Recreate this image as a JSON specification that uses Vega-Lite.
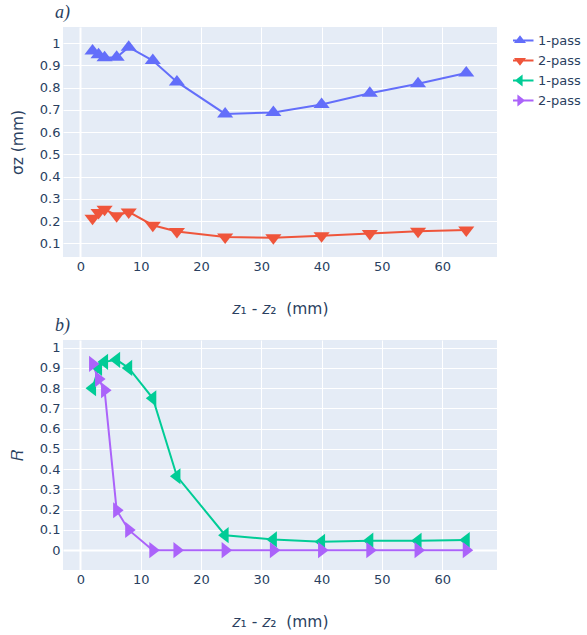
{
  "$schema": "https://vega.github.io/schema/vega-lite/v6.json",
  "padding": {"left": 10, "top": 4, "right": 0, "bottom": 0},
  "background": "white",
  "datasets": {
    "top": [
      {"dz": 2, "v": 0.965, "s": "a1"}, {"dz": 3, "v": 0.948, "s": "a1"}, {"dz": 4, "v": 0.935, "s": "a1"},
      {"dz": 6, "v": 0.937, "s": "a1"}, {"dz": 8, "v": 0.982, "s": "a1"}, {"dz": 12, "v": 0.922, "s": "a1"},
      {"dz": 16, "v": 0.826, "s": "a1"}, {"dz": 24, "v": 0.682, "s": "a1"}, {"dz": 32, "v": 0.688, "s": "a1"},
      {"dz": 40, "v": 0.724, "s": "a1"}, {"dz": 48, "v": 0.775, "s": "a1"}, {"dz": 56, "v": 0.818, "s": "a1"},
      {"dz": 64, "v": 0.866, "s": "a1"},
      {"dz": 2, "v": 0.212, "s": "a2"}, {"dz": 3, "v": 0.238, "s": "a2"}, {"dz": 4, "v": 0.253, "s": "a2"},
      {"dz": 6, "v": 0.224, "s": "a2"}, {"dz": 8, "v": 0.241, "s": "a2"}, {"dz": 12, "v": 0.181, "s": "a2"},
      {"dz": 16, "v": 0.153, "s": "a2"}, {"dz": 24, "v": 0.128, "s": "a2"}, {"dz": 32, "v": 0.125, "s": "a2"},
      {"dz": 40, "v": 0.134, "s": "a2"}, {"dz": 48, "v": 0.144, "s": "a2"}, {"dz": 56, "v": 0.154, "s": "a2"},
      {"dz": 64, "v": 0.16, "s": "a2"}
    ],
    "bottom": [
      {"dz": 2, "v": 0.80, "s": "b1"}, {"dz": 3, "v": 0.90, "s": "b1"}, {"dz": 4, "v": 0.93, "s": "b1"},
      {"dz": 6, "v": 0.94, "s": "b1"}, {"dz": 8, "v": 0.90, "s": "b1"}, {"dz": 12, "v": 0.75, "s": "b1"},
      {"dz": 16, "v": 0.365, "s": "b1"}, {"dz": 24, "v": 0.074, "s": "b1"}, {"dz": 32, "v": 0.053, "s": "b1"},
      {"dz": 40, "v": 0.041, "s": "b1"}, {"dz": 48, "v": 0.047, "s": "b1"}, {"dz": 56, "v": 0.046, "s": "b1"},
      {"dz": 64, "v": 0.05, "s": "b1"},
      {"dz": 2, "v": 0.92, "s": "b2"}, {"dz": 3, "v": 0.845, "s": "b2"}, {"dz": 4, "v": 0.79, "s": "b2"},
      {"dz": 6, "v": 0.197, "s": "b2"}, {"dz": 8, "v": 0.10, "s": "b2"}, {"dz": 12, "v": 0, "s": "b2"},
      {"dz": 16, "v": 0, "s": "b2"}, {"dz": 24, "v": 0, "s": "b2"}, {"dz": 32, "v": 0, "s": "b2"},
      {"dz": 40, "v": 0, "s": "b2"}, {"dz": 48, "v": 0, "s": "b2"}, {"dz": 56, "v": 0, "s": "b2"},
      {"dz": 64, "v": 0, "s": "b2"}
    ]
  },
  "config": {
    "view": {"fill": "#E5ECF6", "stroke": null},
    "axis": {
      "domain": false, "ticks": false, "gridColor": "white",
      "labelFont": "DejaVu Sans", "labelFontSize": 13, "labelColor": "#2a3f5f", "labelFlush": false,
      "titleFont": "DejaVu Sans", "titleFontSize": 15.5, "titleFontWeight": "normal", "titleColor": "#2a3f5f"
    },
    "axisX": {"labelPadding": 3, "titlePadding": 28},
    "axisY": {"labelPadding": 3, "titlePadding": 14},
    "title": {"anchor": "start", "frame": "group", "font": "Liberation Serif", "fontStyle": "italic", "fontWeight": "normal", "fontSize": 18, "color": "#2a3f5f", "offset": 5, "dx": -8},
    "legend": {
      "orient": "none", "legendX": 450, "legendY": 6.5, "padding": 0, "title": null,
      "labelFont": "DejaVu Sans", "labelFontSize": 13, "labelColor": "#2a3f5f",
      "symbolSize": 196, "symbolOpacity": 1, "symbolStrokeWidth": 0,
      "labelOffset": 11, "rowPadding": 6, "clipHeight": 14
    }
  },
  "spacing": 0,
  "resolve": {"scale": {"color": "shared", "shape": "shared"}},
  "vconcat": [
    {
      "width": 434, "height": 230,
      "title": {"text": "a)"},
      "data": {"name": "top"},
      "encoding": {
        "x": {"field": "dz", "type": "quantitative", "scale": {"domain": [-2.9, 69.1], "nice": false, "zero": false},
          "axis": {"values": [0, 10, 20, 30, 40, 50, 60], "title": "𝑧₁ - 𝑧₂\u00a0 (mm)",
            "gridWidth": {"condition": {"test": "datum.value === 0", "value": 2}, "value": 1}}},
        "y": {"field": "v", "type": "quantitative", "scale": {"domain": [0.038, 1.073], "nice": false, "zero": false},
          "axis": {"values": [0.1, 0.2, 0.3, 0.4, 0.5, 0.6, 0.7, 0.8, 0.9, 1], "format": ".1~f", "title": "σz (mm)"}},
        "color": {"field": "s", "type": "nominal",
          "scale": {"domain": ["a1", "a2", "b1", "b2"], "range": ["#636efa", "#EF553B", "#00cc96", "#ab63fa"]},
          "legend": {"labelExpr": "(datum.value === 'a1' || datum.value === 'b1') ? '1-pass' : '2-pass'"}}
      },
      "layer": [
        {"mark": {"type": "line", "strokeWidth": 2}},
        {"transform": [{"filter": "datum.s === 'a1'"}],
          "mark": {"type": "point", "filled": true, "opacity": 1, "size": 196, "shape": "M-1.155,0.5H1.155L0,-1Z"}},
        {"transform": [{"filter": "datum.s === 'a2'"}],
          "mark": {"type": "point", "filled": true, "opacity": 1, "size": 196, "shape": "M-1.155,-0.5H1.155L0,1Z"}},
        {"mark": {"type": "point", "filled": true, "opacity": 0, "size": 196},
          "encoding": {"shape": {"field": "s", "type": "nominal",
            "scale": {"domain": ["a1", "a2", "b1", "b2"], "range": [
              "M-1.93,-0.14V0.14H1.93V-0.14ZM-0.86,0.37H0.86L0,-0.74Z",
              "M-1.93,-0.14V0.14H1.93V-0.14ZM0.86,-0.37H-0.86L0,0.74Z",
              "M-1.93,-0.14V0.14H1.93V-0.14ZM0.37,0.86V-0.86L-0.74,0Z",
              "M-1.93,-0.14V0.14H1.93V-0.14ZM-0.37,-0.86V0.86L0.74,0Z"]},
            "legend": {"labelExpr": "(datum.value === 'a1' || datum.value === 'b1') ? '1-pass' : '2-pass'"}}}}
      ]
    },
    {
      "width": 434, "height": 230,
      "title": {"text": "b)"},
      "data": {"name": "bottom"},
      "encoding": {
        "x": {"field": "dz", "type": "quantitative", "scale": {"domain": [-2.9, 69.1], "nice": false, "zero": false},
          "axis": {"values": [0, 10, 20, 30, 40, 50, 60], "title": "𝑧₁ - 𝑧₂\u00a0 (mm)",
            "gridWidth": {"condition": {"test": "datum.value === 0", "value": 2}, "value": 1}}},
        "y": {"field": "v", "type": "quantitative", "scale": {"domain": [-0.098, 1.038], "nice": false, "zero": false},
          "axis": {"values": [0, 0.1, 0.2, 0.3, 0.4, 0.5, 0.6, 0.7, 0.8, 0.9, 1], "format": ".1~f", "title": "𝑅",
            "gridWidth": {"condition": {"test": "datum.value === 0", "value": 2}, "value": 1}}},
        "color": {"field": "s", "type": "nominal",
          "scale": {"domain": ["a1", "a2", "b1", "b2"], "range": ["#636efa", "#EF553B", "#00cc96", "#ab63fa"]},
          "legend": {"labelExpr": "(datum.value === 'a1' || datum.value === 'b1') ? '1-pass' : '2-pass'"}}
      },
      "layer": [
        {"mark": {"type": "line", "strokeWidth": 2}},
        {"transform": [{"filter": "datum.s === 'b1'"}],
          "mark": {"type": "point", "filled": true, "opacity": 1, "size": 196, "shape": "M0.5,-1.155V1.155L-1,0Z"}},
        {"transform": [{"filter": "datum.s === 'b2'"}],
          "mark": {"type": "point", "filled": true, "opacity": 1, "size": 196, "shape": "M-0.5,-1.155V1.155L1,0Z"}},
        {"mark": {"type": "point", "filled": true, "opacity": 0, "size": 196},
          "encoding": {"shape": {"field": "s", "type": "nominal",
            "scale": {"domain": ["a1", "a2", "b1", "b2"], "range": [
              "M-1.93,-0.14V0.14H1.93V-0.14ZM-0.86,0.37H0.86L0,-0.74Z",
              "M-1.93,-0.14V0.14H1.93V-0.14ZM0.86,-0.37H-0.86L0,0.74Z",
              "M-1.93,-0.14V0.14H1.93V-0.14ZM0.37,0.86V-0.86L-0.74,0Z",
              "M-1.93,-0.14V0.14H1.93V-0.14ZM-0.37,-0.86V0.86L0.74,0Z"]},
            "legend": {"labelExpr": "(datum.value === 'a1' || datum.value === 'b1') ? '1-pass' : '2-pass'"}}}}
      ]
    }
  ]
}
